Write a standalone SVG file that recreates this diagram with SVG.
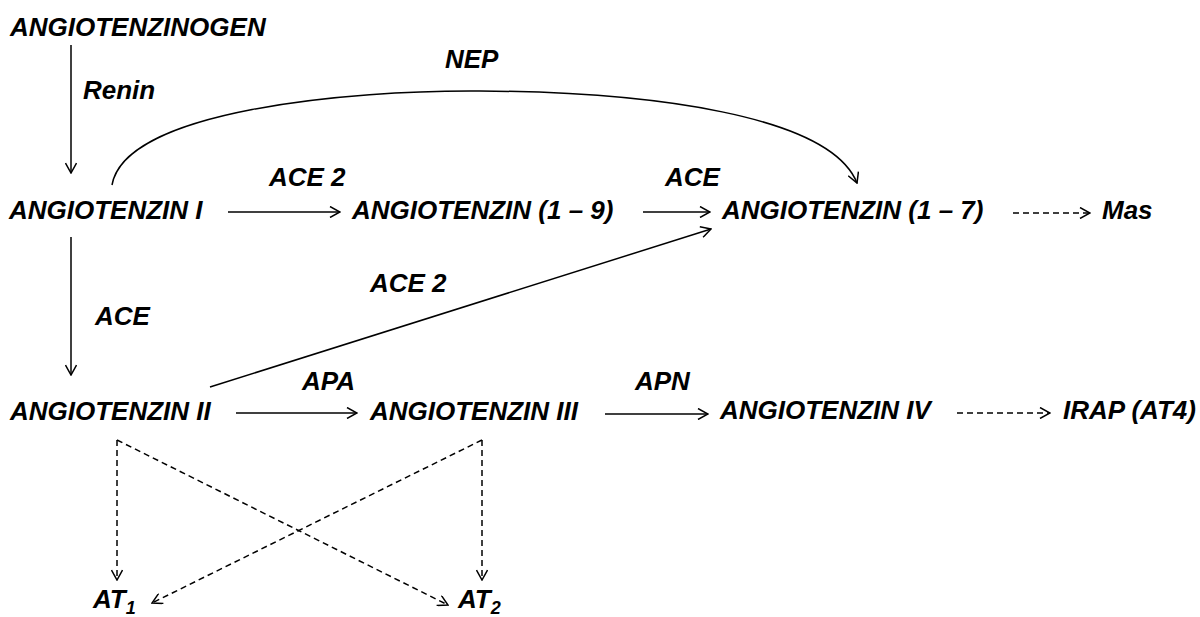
<svg xmlns="http://www.w3.org/2000/svg" width="1200" height="617" viewBox="0 0 1200 617">
<style>
text{font-family:"Liberation Sans",Arial,sans-serif;font-weight:bold;font-style:italic;font-size:26px;fill:#000}
.c{fill:none;stroke:#000;stroke-width:1.5}
.d{fill:none;stroke:#000;stroke-width:1.5;stroke-dasharray:6 4}
</style>
<defs>
<marker id="ah" markerUnits="userSpaceOnUse" viewBox="0 0 12 12" markerWidth="12" markerHeight="12" refX="11" refY="6" orient="auto">
<path d="M1,0.5 L11,6 L1,11.5" fill="none" stroke="#000" stroke-width="1.5"/>
</marker>
</defs>
<rect width="1200" height="617" fill="#fff"/>
<g id="connectors">
<line class="c" x1="71" y1="45" x2="71" y2="173" marker-end="url(#ah)"/>
<path class="c" d="M112,185 C125,110 350,90 480,91 C650,92 830,115 857,183" marker-end="url(#ah)"/>
<line class="c" x1="228" y1="212" x2="340" y2="212" marker-end="url(#ah)"/>
<line class="c" x1="643" y1="212" x2="710" y2="212" marker-end="url(#ah)"/>
<line class="d" x1="1013" y1="213" x2="1090" y2="213" marker-end="url(#ah)"/>
<line class="c" x1="71" y1="237" x2="71" y2="375" marker-end="url(#ah)"/>
<line class="c" x1="210" y1="387" x2="711" y2="229" marker-end="url(#ah)"/>
<line class="c" x1="236" y1="413" x2="357" y2="413" marker-end="url(#ah)"/>
<line class="c" x1="605" y1="414" x2="708" y2="414" marker-end="url(#ah)"/>
<line class="d" x1="957" y1="413" x2="1050" y2="413" marker-end="url(#ah)"/>
<line class="d" x1="117" y1="440" x2="117" y2="580" marker-end="url(#ah)"/>
<line class="d" x1="482" y1="440" x2="482" y2="580" marker-end="url(#ah)"/>
<line class="d" x1="117" y1="440" x2="448" y2="605" marker-end="url(#ah)"/>
<line class="d" x1="482" y1="440" x2="152" y2="603" marker-end="url(#ah)"/>
<text x="83" y="99">Renin</text>
<text x="445" y="68">NEP</text>
<text x="269" y="186">ACE 2</text>
<text x="665" y="186">ACE</text>
<text x="95" y="325">ACE</text>
<text x="370" y="292">ACE 2</text>
<text x="302" y="390">APA</text>
<text x="635" y="390">APN</text>
</g>
<g id="angiotenzinogen"><text x="10" y="36">ANGIOTENZINOGEN</text></g>
<g id="angiotenzin1"><text x="9" y="219">ANGIOTENZIN I</text></g>
<g id="angiotenzin19"><text x="352" y="219">ANGIOTENZIN (1 – 9)</text></g>
<g id="angiotenzin17"><text x="722" y="219">ANGIOTENZIN (1 – 7)</text></g>
<g id="mas"><text x="1102" y="219">Mas</text></g>
<g id="angiotenzin2"><text x="10" y="420">ANGIOTENZIN II</text></g>
<g id="angiotenzin3"><text x="370" y="420">ANGIOTENZIN III</text></g>
<g id="angiotenzin4"><text x="720" y="419">ANGIOTENZIN IV</text></g>
<g id="irap"><text x="1063" y="419">IRAP (AT4)</text></g>
<g id="at1"><text x="93" y="608">AT<tspan font-size="18" dy="6">1</tspan></text></g>
<g id="at2"><text x="458" y="608">AT<tspan font-size="18" dy="6">2</tspan></text></g>
</svg>
